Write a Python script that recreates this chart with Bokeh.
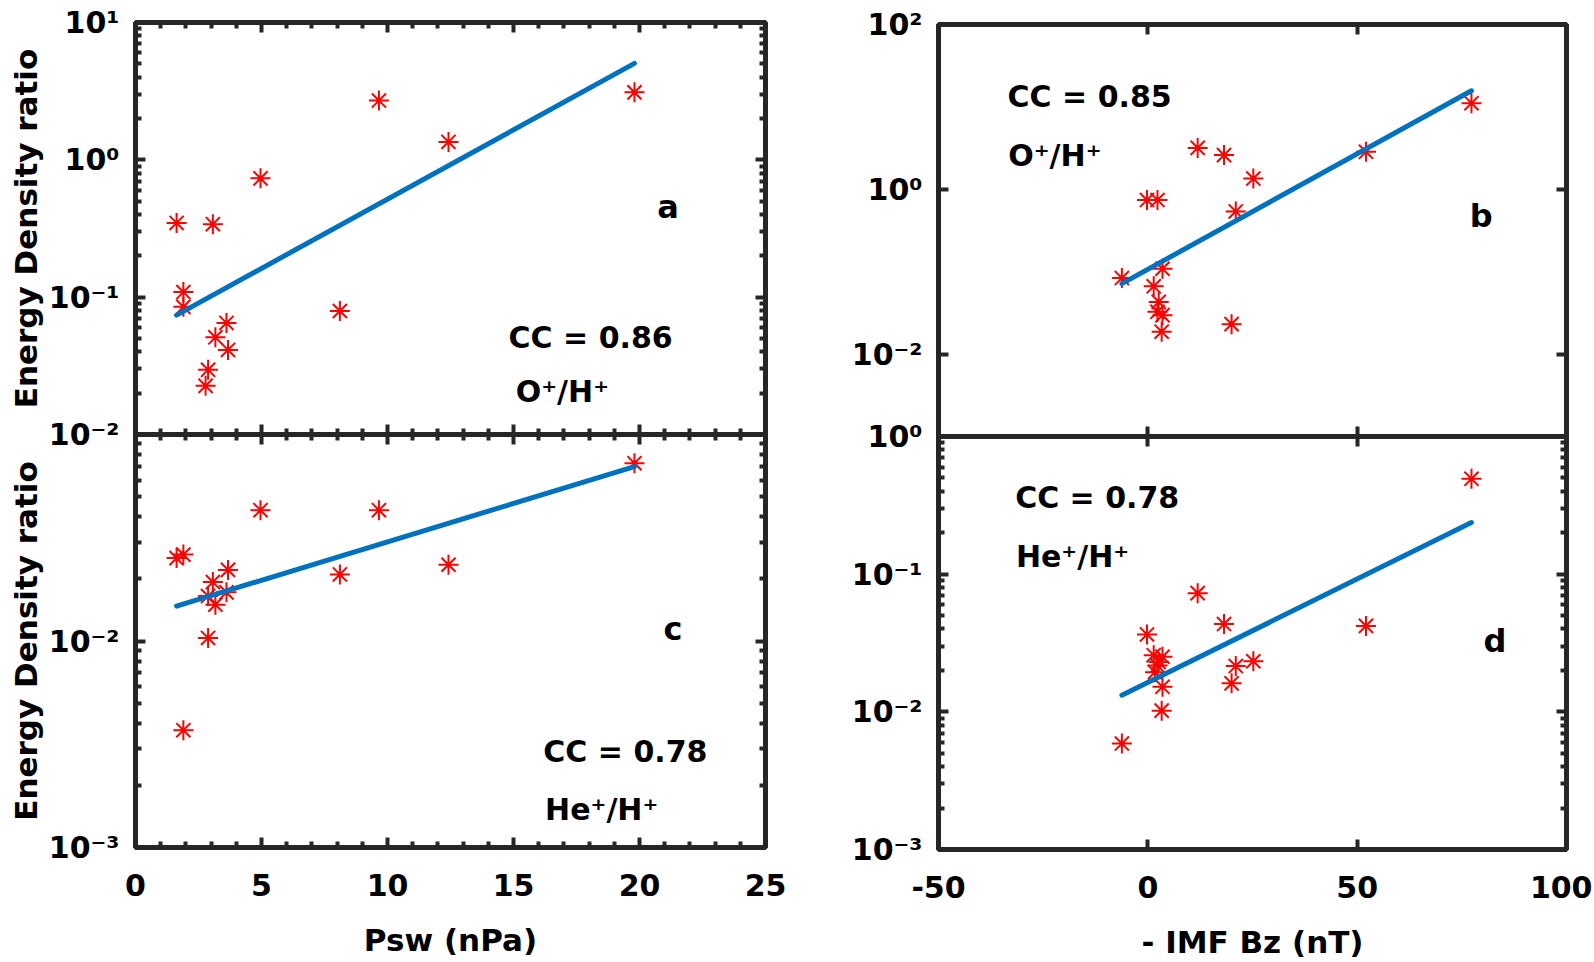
from bokeh.plotting import figure
from bokeh.models import LogAxis, LinearAxis, FixedTicker, CustomJSTickFormatter, Label, Range1d
from bokeh.layouts import row, column
from bokeh.embed import file_html
from bokeh.resources import INLINE

# ---------------- data ----------------
# panel a : O+/H+ vs Psw
psw_a = [1.63, 3.07, 1.90, 1.90, 4.96, 3.17, 3.61, 3.67, 2.88, 2.78, 8.11, 9.66, 12.42, 19.8]
ratio_a = [0.347, 0.34, 0.109, 0.085, 0.733, 0.051, 0.0649, 0.0413, 0.0296, 0.0226, 0.0793, 2.70, 1.35, 3.10]
fit_a_x = [1.63, 19.8]
fit_a_y = [0.074, 5.04]

# panel c : He+/H+ vs Psw
psw_c = [19.8, 4.96, 9.66, 1.63, 1.90, 3.67, 3.07, 2.88, 3.61, 3.17, 8.11, 12.42, 2.88, 1.90]
ratio_c = [0.0726, 0.043, 0.043, 0.0252, 0.0262, 0.0221, 0.0193, 0.0165, 0.0172, 0.0150, 0.021, 0.0234, 0.01035, 0.0037]
fit_c_x = [1.63, 19.8]
fit_c_y = [0.01475, 0.0699]

# panel b : O+/H+ vs -IMF Bz
bz_b = [11.9, 18.2, 25.2, -0.2, 2.3, 21.0, 52.1, 77.3, -6.2, 3.5, 1.4, 2.6, 2.3, 3.5, 3.3, 20.0]
ratio_b = [3.18, 2.60, 1.35, 0.74, 0.74, 0.538, 2.85, 11.1, 0.0838, 0.1086, 0.0665, 0.043, 0.0326, 0.0297, 0.0187, 0.0231]
fit_b_x = [-6.2, 77.3]
fit_b_y = [0.0716, 15.7]

# panel d : He+/H+ vs -IMF Bz
bz_d = [77.3, 11.9, 18.2, 52.1, -0.2, 1.4, 3.5, 2.3, 1.7, 21.0, 25.2, 20.0, 3.5, 3.3, -6.2, 2.6]
ratio_d = [0.493, 0.0728, 0.0434, 0.0421, 0.0365, 0.0258, 0.0251, 0.0217, 0.0194, 0.0215, 0.0233, 0.0161, 0.0152, 0.0102, 0.00588, 0.023]
fit_d_x = [-6.2, 77.3]
fit_d_y = [0.0132, 0.237]

# tick positions / labels
psw_ticks = [0, 5, 10, 15, 20, 25]
bz_ticks = [-50, 0, 50, 100]
a_exps = [-2, -1, 0, 1]
a_labels = ["10⁻²", "10⁻¹", "10⁰", "10¹"]
c_exps = [-3, -2]
c_labels = ["10⁻³", "10⁻²"]
b_exps = [-3, -2, 0, 2]
b_labels = ["10⁰", "10⁻²", "10⁰", "10²"]
d_exps = [-3, -2, -1]
d_labels = ["10⁻³", "10⁻²", "10⁻¹"]

AX = "#262626"
FONT = "DejaVu Sans"
RED = "#FF0000"
BLUE = "#0072BD"
OVERLAP = 20


def log_ticker(exps, minor, lo, hi):
    ticks = [10.0 ** e for e in exps]
    minors = []
    if minor:
        for e in range(lo, hi):
            minors += [m * 10.0 ** e for m in range(2, 10)]
    return FixedTicker(ticks=ticks, minor_ticks=minors)


def log_formatter(exps, labels):
    return CustomJSTickFormatter(args=dict(exps=exps, labs=labels), code="""
        const e = Math.round(Math.log10(tick));
        const i = exps.indexOf(e);
        return i >= 0 ? labs[i] : "";
    """)


def style_axis(ax, show_labels, standoff=16):
    ax.axis_line_color = AX
    ax.axis_line_width = 5
    ax.major_tick_line_color = AX
    ax.major_tick_line_width = 4
    ax.minor_tick_line_color = AX
    ax.minor_tick_line_width = 4
    ax.major_tick_in = 10
    ax.major_tick_out = 0
    ax.minor_tick_in = 6
    ax.minor_tick_out = 0
    if show_labels:
        ax.major_label_text_font = FONT
        ax.major_label_text_font_size = "30px"
        ax.major_label_text_font_style = "bold"
        ax.major_label_text_color = "black"
        ax.major_label_standoff = standoff
    else:
        ax.major_label_text_font_size = "1px"
        ax.major_label_text_color = None
        ax.major_label_standoff = 0
        ax.formatter = CustomJSTickFormatter(code="return '';")


def make_panel(xr, yr, xticker, yticker, yfmt, top, bottom, left, right, fw, fh,
               show_xlabels, xlabel=None, ylabel=None, lower=False):
    p = figure(frame_width=fw, frame_height=fh, x_range=Range1d(*xr), y_range=Range1d(*yr),
               y_axis_type="log", output_backend="svg", toolbar_location=None,
               min_border=0, min_border_top=top, min_border_bottom=bottom,
               min_border_left=left, min_border_right=right,
               background_fill_color="white", border_fill_color="white")
    if lower:
        # lower panel slides up under the upper panel's overhanging tick label
        p.border_fill_alpha = 0
        p.margin = (-OVERLAP, 0, 0, 0)
    p.xgrid.visible = False
    p.ygrid.visible = False
    p.outline_line_color = AX
    p.outline_line_width = 5

    xa = p.xaxis[0]
    xa.ticker = xticker
    style_axis(xa, show_xlabels, standoff=26)
    if show_xlabels:
        xa.formatter = CustomJSTickFormatter(code="return String(tick);")
    if xlabel:
        xa.axis_label = xlabel
        xa.axis_label_text_font = FONT
        xa.axis_label_text_font_size = "31px"
        xa.axis_label_text_font_style = "bold"
        xa.axis_label_text_color = "black"
        xa.axis_label_standoff = 23

    ya = p.yaxis[0]
    ya.ticker = yticker
    style_axis(ya, True, standoff=16)
    ya.formatter = yfmt
    if ylabel:
        ya.axis_label = ylabel
        ya.axis_label_text_font = FONT
        ya.axis_label_text_font_size = "31px"
        ya.axis_label_text_font_style = "bold"
        ya.axis_label_text_color = "black"
        ya.axis_label_standoff = 2

    top_ax = LinearAxis(ticker=xticker)
    style_axis(top_ax, False)
    p.add_layout(top_ax, "above")
    right_ax = LogAxis(ticker=yticker)
    style_axis(right_ax, False)
    p.add_layout(right_ax, "right")
    return p


def add_text(p, x, y, text, size, align="center"):
    p.add_layout(Label(x=x, y=y, text=text, text_font=FONT, text_font_size=size,
                       text_font_style="bold", text_color="black",
                       text_align=align, text_baseline="alphabetic"))


def stars(p, xs, ys):
    p.scatter(xs, ys, marker="asterisk", size=20, line_color=RED, line_width=2)


def fit(p, xs, ys):
    p.line(xs, ys, line_color=BLUE, line_width=5, line_cap="round")


psw_ticker = FixedTicker(ticks=psw_ticks, minor_ticks=[v for v in range(0, 26) if v % 5 != 0])
bz_ticker = FixedTicker(ticks=bz_ticks, minor_ticks=[])

# panel a
pa = make_panel((0, 25), (0.01, 10), psw_ticker, log_ticker(a_exps, True, -2, 1),
                log_formatter(a_exps, a_labels), 22, OVERLAP, 135, 40, 630, 412, False,
                ylabel="Energy Density ratio")
stars(pa, psw_a, ratio_a)
fit(pa, fit_a_x, fit_a_y)
add_text(pa, 21.13, 0.4533, "a", "32px")
add_text(pa, 18.06, 0.0507, "CC = 0.86", "30px")
add_text(pa, 16.94, 0.02047, "O⁺/H⁺", "30px")

# panel c
pc = make_panel((0, 25), (0.001, 0.1), psw_ticker, log_ticker(c_exps + [-1], True, -3, -1),
                log_formatter(c_exps, c_labels), 0, 100, 135, 40, 630, 413, True,
                xlabel="Psw (nPa)", ylabel="Energy Density ratio", lower=True)
stars(pc, psw_c, ratio_c)
fit(pc, fit_c_x, fit_c_y)
add_text(pc, 21.33, 0.01148, "c", "32px")
add_text(pc, 19.44, 0.00293, "CC = 0.78", "30px")
add_text(pc, 18.5, 0.001524, "He⁺/H⁺", "30px")

# panel b
pb = make_panel((-50, 100), (0.001, 100), bz_ticker, log_ticker(b_exps, False, -3, 2),
                log_formatter(b_exps, b_labels), 24, OVERLAP, 133, 26, 628, 412, False)
stars(pb, bz_b, ratio_b)
fit(pb, fit_b_x, fit_b_y)
add_text(pb, 79.6, 0.478, "b", "32px")
add_text(pb, -13.9, 13.4, "CC = 0.85", "30px")
add_text(pb, -22.2, 2.60, "O⁺/H⁺", "30px")

# panel d
pd_ = make_panel((-50, 100), (0.001, 1), bz_ticker, log_ticker(d_exps + [0], True, -3, 0),
                 log_formatter(d_exps, d_labels), 0, 98, 133, 26, 628, 413, True,
                 xlabel="- IMF Bz (nT)", lower=True)
stars(pd_, bz_d, ratio_d)
fit(pd_, fit_d_x, fit_d_y)
add_text(pd_, 82.9, 0.0325, "d", "32px")
add_text(pd_, -12.1, 0.3605, "CC = 0.78", "30px")
add_text(pd_, -18.0, 0.1355, "He⁺/H⁺", "30px")

layout = row(column(pa, pc), column(pb, pd_))
open("out.html", "w").write(file_html(layout, INLINE))
